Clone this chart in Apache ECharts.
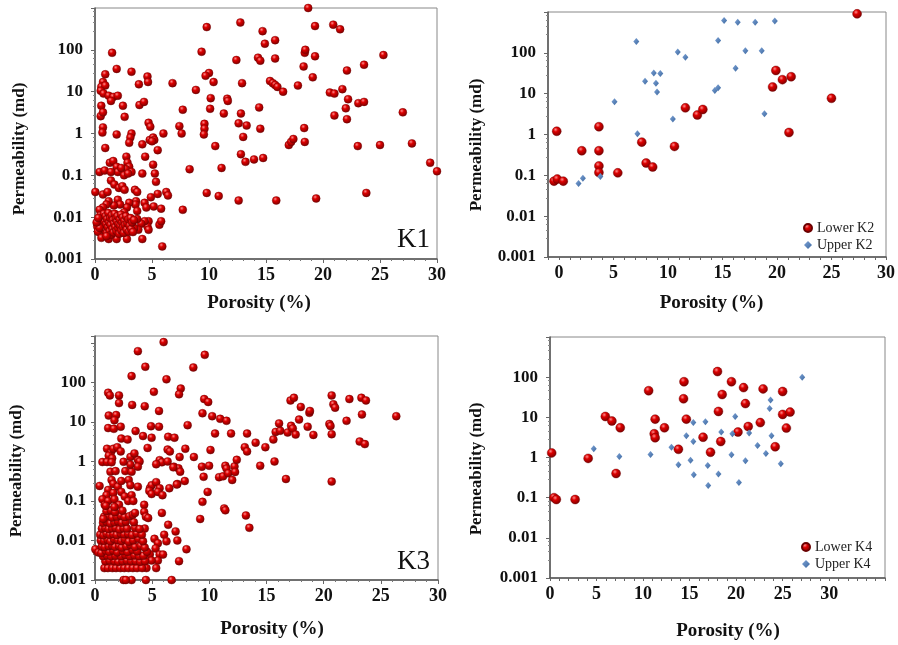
<!DOCTYPE html>
<html>
<head>
<meta charset="utf-8">
<script src="https://cdn.jsdelivr.net/npm/echarts@6.0.0/dist/echarts.min.js"></script>
<style>
html,body{margin:0;padding:0;background:#fff;}
#chart{width:898px;height:645px;}
</style>
</head>
<body>
<div id="chart"></div>
<script>
// ---------------- data ----------------
const yTickLabels = ['0.001', '0.01', '0.1', '1', '10', '100'];
const xTickLabels = ['0', '5', '10', '15', '20', '25', '30'];
const xAxisName = 'Porosity (%)';
const yAxisName = 'Permeability (md)';
const panelLabels = ['K1', 'K3'];
const legendK2 = ['Lower K2', 'Upper K2'];
const legendK4 = ['Lower K4', 'Upper K4'];

// K1 [porosity %, permeability md]
const k1Points = [
  [18.7,1000],[9.8,350],[12.75,450],[14.7,280],[19.3,370],[20.9,400],[21.5,310],[9.35,90],[14.9,140],[15.8,170],
  [12.4,57],[14.3,65],[14.5,55],[15.8,62],[18.4,85],[18.45,100],[19.3,70],[18.3,40],[19.1,22],[23.6,44],
  [25.3,75],[22.1,32],[10.0,28],[9.7,24],[10.4,17],[12.9,16],[8.85,11],[10.15,7],[11.6,6.8],[11.65,6],
  [15.35,18],[15.6,16],[15.8,14.5],[16.0,13],[16.5,10],[17.8,14],[20.6,9.5],[21.0,9],[21.7,11.5],[22.2,6.6],
  [23.1,5.3],[23.6,5.7],[22.0,4.0],[21.0,2.7],[22.1,2.2],[27.0,3.2],[6.8,16],[7.7,3.7],[10.1,3.9],[11.3,3.0],
  [12.8,3.0],[12.6,1.75],[13.3,1.55],[14.4,4.2],[14.5,1.3],[9.6,1.7],[9.6,1.3],[9.55,0.95],[7.4,1.5],[7.6,1.0],
  [13.0,0.83],[10.55,0.5],[17.0,0.53],[17.2,0.63],[17.4,0.74],[18.4,0.63],[18.35,1.35],[23.05,0.5],[25.0,0.53],[27.8,0.58],
  [29.4,0.2],[30.0,0.125],[8.3,0.14],[11.1,0.15],[12.8,0.32],[13.2,0.21],[13.95,0.24],[14.75,0.26],[9.8,0.038],[10.85,0.032],
  [12.6,0.025],[15.9,0.025],[19.4,0.028],[23.8,0.038],[7.7,0.015],[6.0,1.0],[5.9,0.002],
  [1.5,85],[1.9,35],[3.2,30],[0.9,26],[4.6,23],[4.65,17],[3.85,15],[0.7,17],[0.55,13],[0.9,14],
  [0.5,10.5],[0.75,9],[1.2,8],[1.6,7.5],[2.0,8],[1.4,6],[0.55,4.6],[2.45,4.6],[3.9,4.8],[4.3,5.7],
  [0.5,2.6],[0.7,3.2],[2.6,2.5],[4.7,1.8],[4.85,1.45],[0.7,1.4],[0.65,1.05],[1.9,0.95],[3.2,1.0],[3.1,0.8],
  [3.0,0.6],[4.15,0.55],[4.8,0.7],[5.1,0.8],[5.2,0.7],[5.0,0.65],[0.9,0.45],[5.5,0.4],[4.4,0.28],[2.75,0.28],
  [2.85,0.2],[3.0,0.16],[2.7,0.14],[3.2,0.12],[1.3,0.2],[1.6,0.22],[1.9,0.16],[2.0,0.12],[2.3,0.15],[0.4,0.12],
  [0.85,0.13],[1.4,0.12],[4.15,0.11],[5.1,0.18],[5.25,0.11],[2.55,0.1],[2.9,0.11],[5.35,0.07],[0.03,0.04],[1.4,0.075],
  [1.7,0.06],[2.1,0.05],[2.4,0.055],[2.6,0.045],[3.5,0.045],[3.7,0.04],[0.7,0.035],[1.1,0.04],[4.9,0.03],[5.5,0.036],
  [6.25,0.04],[6.4,0.033],[5.8,0.016],[5.15,0.018],[4.35,0.022],[4.5,0.017],[3.6,0.024],[3.55,0.02],[3.7,0.014],[3.0,0.022],
  [2.8,0.017],[2.55,0.013],[2.0,0.026],[2.2,0.02],[1.65,0.019],[1.2,0.024],[1.0,0.02],[0.7,0.017],[0.4,0.015],[5.65,0.0066],
  [5.8,0.008],[4.7,0.008],[4.6,0.006],[4.7,0.005],[4.35,0.008],[4.05,0.007],[3.8,0.005],[3.45,0.0055],[3.7,0.009],[1.2,0.003],
  [1.9,0.003],[2.8,0.003],[4.15,0.003],
  [0.2,0.006],[0.32,0.0085],[0.36,0.0045],[0.47,0.011],[0.52,0.007],[0.58,0.005],[0.63,0.009],[0.66,0.0038],[0.74,0.0062],[0.77,0.012],
  [0.83,0.008],[0.88,0.0048],[0.92,0.0105],[0.97,0.0068],[1.03,0.0042],[1.06,0.009],[1.12,0.0058],[1.17,0.0125],[1.22,0.0075],[1.28,0.0046],
  [1.31,0.0095],[1.37,0.0065],[1.42,0.0038],[1.46,0.011],[1.52,0.0052],[1.57,0.0085],[1.62,0.0043],[1.66,0.007],[1.72,0.012],[1.77,0.0058],
  [1.81,0.0092],[1.87,0.0047],[1.91,0.0078],[1.96,0.0105],[2.02,0.0055],[2.06,0.0068],[2.12,0.004],[2.16,0.0088],[2.21,0.0062],[2.27,0.0115],
  [2.31,0.0048],[2.37,0.0075],[2.42,0.0098],[2.46,0.0057],[2.52,0.0042],[2.57,0.0082],[2.63,0.0065],[2.71,0.0105],[2.77,0.005],[2.83,0.0072],
  [2.92,0.0088],[2.97,0.0045],[3.03,0.0062],[3.12,0.0095],[3.17,0.0052],[3.26,0.0075],[3.33,0.0044],[3.42,0.0085],[0.26,0.0045],[0.41,0.0055],
  [0.56,0.0032],[1.01,0.0035],[0.14,0.0075],[0.29,0.0095]
];

// K2
const k2Lower = [
  [27.35,900],[-0.2,1.2],[-0.45,0.072],[-0.15,0.081],[0.4,0.072],[2.1,0.40],[3.67,1.55],[3.67,0.40],[3.67,0.17],[3.67,0.117],
  [5.4,0.115],[7.6,0.65],[8.0,0.2],[8.6,0.16],[10.6,0.51],[11.6,4.5],[12.7,3.0],[13.2,4.1],[19.6,14.6],[19.9,37],
  [20.5,22],[21.3,26],[21.1,1.12],[25.0,7.7]
];
const k2Upper = [
  [15.15,620],[16.4,560],[18.0,560],[19.8,600],[7.1,190],[14.6,200],[10.9,105],[11.6,78],[17.1,112],[18.6,112],
  [16.2,42],[8.7,32],[9.3,31],[7.9,20],[8.9,18],[9.0,11],[14.3,12],[14.6,14],[5.1,6.3],[10.45,2.4],
  [18.85,3.2],[7.2,1.04],[1.8,0.063],[2.2,0.085],[3.8,0.093]
];

// K3
const k3Points = [
  [9.6,500],[8.6,240],[9.4,16.6],[9.55,38],[9.9,32],[10.25,14],[10.95,12],[11.5,10.7],[10.5,5.1],[11.9,5.1],
  [13.3,5.1],[13.1,2.3],[13.3,1.8],[14.05,3.0],[14.9,2.3],[15.6,3.6],[15.8,5.6],[16.2,6.0],[16.1,9.2],[16.85,5.4],
  [17.15,8.0],[17.3,6.8],[17.1,35],[17.4,41],[17.55,4.8],[17.85,11.5],[18.0,24],[18.75,17],[18.8,19],[18.6,7.6],
  [19.1,4.7],[16.7,0.36],[15.7,1.0],[14.45,0.78],[20.7,47],[20.85,28],[21.0,23],[20.5,8.9],[20.6,7.9],[20.7,4.9],
  [20.7,0.31],[22.0,10.7],[22.25,38],[23.3,41],[23.7,35],[23.35,15.5],[23.15,3.2],[23.6,2.75],[26.35,14],[9.35,0.74],
  [9.5,0.41],[9.98,0.78],[10.1,1.95],[9.85,0.17],[9.4,0.095],[9.2,0.035],[11.4,0.78],[11.5,0.66],[10.85,0.40],[11.2,0.42],
  [11.65,0.5],[12.0,0.34],[12.2,0.75],[12.25,0.54],[12.4,1.1],[11.3,0.065],[11.4,0.058],[13.2,0.043],[13.5,0.021],[8.65,1.3],
  [6.0,1050],[3.75,620],[4.4,250],[3.2,145],[6.25,120],[7.5,70],[7.35,50],[5.15,58],[1.15,55],[1.3,47],
  [2.1,47],[2.1,30],[3.25,27],[4.35,25],[5.6,19],[1.2,14.5],[1.85,15],[1.7,11],[1.15,7],[1.65,6.7],
  [2.25,7.6],[3.55,5.9],[4.9,7.8],[5.6,7.6],[4.2,4.4],[4.95,4.0],[2.3,3.8],[2.85,3.6],[6.4,4.2],[6.95,4.0],
  [8.1,8.3],[1.05,2.1],[1.4,1.7],[1.6,2.1],[1.95,2.3],[2.25,1.8],[1.2,1.4],[1.5,1.2],[3.75,1.1],[3.9,1.0],
  [3.1,1.3],[3.45,1.6],[4.6,2.2],[6.35,2.0],[6.55,1.8],[7.4,1.3],[7.9,2.1],[5.65,1.08],[5.85,0.95],[5.35,0.85],
  [6.35,1.0],[6.9,0.74],[7.3,0.67],[0.65,0.97],[1.05,0.97],[1.45,0.95],[1.35,0.55],[1.8,0.57],[2.65,0.57],[3.2,0.55],
  [3.75,0.74],[3.1,0.83],[2.5,0.98],[0.4,0.24],[1.45,0.34],[1.6,0.27],[2.0,0.23],[2.3,0.32],[2.95,0.34],[3.1,0.25],
  [3.75,0.23],[4.8,0.21],[4.95,0.25],[4.75,0.18],[4.95,0.15],[5.35,0.3],[5.65,0.21],[5.5,0.17],[5.9,0.14],[6.5,0.21],
  [7.2,0.27],[7.85,0.32],[1.15,0.19],[1.0,0.14],[1.6,0.16],[2.3,0.17],[2.6,0.13],[3.2,0.14],[0.65,0.11],[0.85,0.08],
  [1.15,0.1],[1.7,0.11],[2.1,0.08],[2.9,0.1],[3.35,0.1],[4.3,0.08],[5.85,0.05],[4.3,0.053],[4.45,0.04],[4.65,0.037],
  [4.35,0.02],[6.4,0.025],[7.05,0.017],[6.05,0.014],[7.2,0.01],[6.25,0.0095],[8.0,0.006],[7.35,0.003],[6.7,0.001],[5.2,0.011],
  [5.5,0.0085],[5.3,0.0063],[5.65,0.0044],[5.5,0.0031],[5.95,0.0044],[5.35,0.002],[4.8,0.0045],[4.95,0.0031],[4.5,0.002],[4.45,0.001],
  [3.2,0.001],[2.5,0.001],[2.7,0.001],[0.15,0.0054],[0.03,0.006],[7.15,0.26],[7.45,0.55],[6.85,0.71],
  [0.82,0.002],[1.13,0.002],[1.52,0.002],[1.84,0.002],[2.22,0.002],[2.56,0.002],[2.93,0.002],[3.31,0.002],[3.68,0.002],[4.12,0.002],
  [0.9,0.003],[1.28,0.0031],[1.71,0.003],[2.04,0.0029],[2.41,0.003],[2.79,0.0031],[3.16,0.003],[3.57,0.003],[3.96,0.0029],[4.38,0.003],
  [0.7,0.004],[1.06,0.0042],[1.41,0.004],[1.79,0.0041],[2.29,0.004],[2.66,0.0043],[3.04,0.004],[3.46,0.0042],[3.86,0.004],[4.24,0.0041],
  [0.3,0.005],[0.55,0.0048],[0.95,0.0055],[1.25,0.0052],[1.6,0.0056],[1.95,0.005],[2.45,0.0054],[2.85,0.0051],[3.3,0.0058],[3.7,0.0053],
  [4.55,0.0052],[0.6,0.007],[0.85,0.0068],[1.2,0.0072],[1.5,0.0075],[1.75,0.0069],[2.1,0.0073],[2.35,0.0066],[2.75,0.0071],[3.1,0.0078],
  [3.5,0.0068],[4.0,0.0074],[4.35,0.0066],[0.5,0.01],[0.8,0.0098],[1.1,0.0105],[1.35,0.0095],[1.65,0.011],[2.0,0.0102],[2.3,0.0097],
  [2.6,0.0108],[2.95,0.0093],[3.35,0.0101],[3.8,0.011],[4.2,0.0096],[0.45,0.014],[0.75,0.0135],[1.0,0.015],[1.3,0.014],[1.6,0.0145],
  [1.9,0.0138],[2.25,0.015],[2.55,0.0142],[2.9,0.0148],[3.25,0.0137],[3.65,0.015],[4.1,0.014],[0.6,0.02],[0.9,0.021],[1.2,0.0195],
  [1.5,0.0205],[1.8,0.021],[2.15,0.019],[2.5,0.0205],[2.8,0.02],[3.5,0.021],[3.9,0.0195],[0.7,0.028],[1.0,0.03],[1.35,0.027],
  [1.7,0.029],[2.0,0.031],[2.35,0.028],[2.7,0.03],[3.4,0.029],[0.8,0.04],[1.15,0.042],[1.5,0.038],[1.9,0.04],[2.25,0.043],
  [2.6,0.039],[3.0,0.041],[3.3,0.045],[1.0,0.055],[1.4,0.058],[1.75,0.052],[2.4,0.057],[0.95,0.075],[1.7,0.07],[3.5,0.05],
  [0.72,0.035]
];

// K4
const k4Lower = [
  [0.18,1.3],[0.43,0.1],[0.68,0.09],[2.7,0.09],[4.1,0.95],[5.95,10.5],[6.65,8.1],[7.55,5.5],[7.1,0.4],[10.6,46],
  [14.4,77],[14.35,29],[14.65,9.0],[11.3,9.0],[11.2,3.9],[11.3,3.1],[12.3,5.5],[13.8,1.6],[16.45,3.2],[17.25,1.35],
  [18.0,138],[18.1,14],[18.5,37],[18.35,2.5],[19.5,77],[20.2,4.3],[20.8,55],[21.0,22],[21.3,5.9],[22.6,7.4],
  [22.9,51],[24.2,1.85],[25.0,44],[25.0,11.8],[25.4,5.4],[25.8,13.5]
];
const k4Upper = [
  [4.7,1.65],[7.45,1.06],[10.8,1.19],[13.05,1.8],[13.8,0.66],[14.65,3.5],[15.1,0.85],[15.4,2.5],[15.4,7.4],[15.45,0.37],
  [16.7,7.8],[16.95,0.63],[17.0,0.2],[18.1,0.39],[18.4,4.3],[19.5,1.17],[19.6,3.9],[19.9,10.5],[20.3,0.24],[21.0,0.83],
  [21.4,4.1],[22.3,2.0],[23.2,1.26],[23.7,27],[23.6,16.5],[23.8,3.5],[24.8,0.7],[27.1,100]
];

// ---------------- styling ----------------
const SERIF = "'Liberation Serif', 'Times New Roman', serif";
const redBall = {
  type: 'radial', x: 0.38, y: 0.32, r: 0.7,
  colorStops: [
    {offset: 0, color: '#ff8c8c'},
    {offset: 0.35, color: '#dc0000'},
    {offset: 1, color: '#7a0000'}
  ]
};
const blueDiamond = {
  type: 'linear', x: 0, y: 0, x2: 1, y2: 1,
  colorStops: [
    {offset: 0, color: '#7ea3d6'},
    {offset: 1, color: '#3b679f'}
  ]
};

const grids = [
  {left: 95, top: 8, width: 342, height: 251},
  {left: 548, top: 12, width: 339, height: 245},
  {left: 95, top: 336, width: 343, height: 244},
  {left: 550, top: 337, width: 335, height: 241}
];
// centres of the rotated y-axis titles
const yNamePos = [[20, 149], [477, 145], [17, 471], [477, 469]];

function xLabelFmt(v) {
  const r = Math.round(v);
  if (Math.abs(v - r) > 1e-6 || r % 5 !== 0 || r < 0 || r > 30) return '';
  return xTickLabels[r / 5];
}
function yLabelFmt(v) {
  const l = Math.log10(v);
  const e = Math.round(l);
  if (Math.abs(l - e) > 1e-6) return '';
  const i = e + 3;
  return (i >= 0 && i < yTickLabels.length) ? yTickLabels[i] : '';
}

function makeX(gi, min, max, interval, nameGap, namePad, minor) {
  return {
    gridIndex: gi, type: 'value', min: min, max: max, interval: interval,
    name: xAxisName, nameLocation: 'middle', nameGap: nameGap,
    nameTextStyle: {fontFamily: SERIF, fontWeight: 'bold', fontSize: 19, color: '#111', padding: namePad},
    axisLine: {show: true, onZero: false, lineStyle: {color: '#555', width: 1.5}},
    axisTick: {show: true, length: minor ? 4 : 3, lineStyle: {color: '#666'}},
    minorTick: {show: !!minor, splitNumber: 5, length: 2, lineStyle: {color: '#777'}},
    axisLabel: {formatter: xLabelFmt, fontFamily: SERIF, fontWeight: 'bold', fontSize: 18, color: '#111', margin: 7},
    splitLine: {show: false}
  };
}
function makeY(gi, max, labelMargin) {
  return {
    gridIndex: gi, type: 'log', logBase: 10, min: 0.001, max: max,
    axisLine: {show: true, onZero: false, lineStyle: {color: '#555', width: 1.5}},
    axisTick: {show: true, length: 4, lineStyle: {color: '#666'}},
    minorTick: {show: true, splitNumber: 5, length: 2, lineStyle: {color: '#888'}},
    axisLabel: {formatter: yLabelFmt, fontFamily: SERIF, fontWeight: 'bold', fontSize: 17, color: '#111', margin: labelMargin},
    splitLine: {show: false}
  };
}

function redSeries(name, data, idx, size) {
  return {
    name: name, type: 'scatter', xAxisIndex: idx, yAxisIndex: idx, data: data,
    symbol: 'circle', symbolSize: size,
    itemStyle: {color: redBall, borderColor: '#6a0000', borderWidth: 0.4, opacity: 1}
  };
}
function blueSeries(name, data, idx) {
  return {
    name: name, type: 'scatter', xAxisIndex: idx, yAxisIndex: idx, data: data,
    symbol: 'diamond', symbolSize: [6, 7],
    itemStyle: {color: blueDiamond, opacity: 1}
  };
}

const legendText = {fontFamily: SERIF, fontSize: 14, color: '#222'};

const yNameGraphics = yNamePos.map(p => ({
  type: 'text', x: p[0], y: p[1], rotation: Math.PI / 2,
  style: {text: yAxisName, font: "bold 17px 'Liberation Serif', serif", fill: '#111', align: 'center', verticalAlign: 'middle'}
}));

const option = {
  animation: false,
  backgroundColor: '#fff',
  grid: grids.map(g => Object.assign({show: true, borderColor: '#888', borderWidth: 1, backgroundColor: 'transparent', containLabel: false}, g)),
  xAxis: [
    makeX(0, 0, 30, 5, 35, [0, 14, 0, 0], true),
    makeX(1, -1, 30, 1, 37, [0, 11, 0, 0], false),
    makeX(2, 0, 30, 5, 40, [0, 0, 0, 11], true),
    makeX(3, 0, 36, 1, 44, [0, 0, 0, 21], false)
  ],
  yAxis: [
    makeY(0, 1000, 12),
    makeY(1, 1000, 12),
    makeY(2, 1500, 9),
    makeY(3, 1000, 12)
  ],
  legend: [
    {data: legendK2, orient: 'vertical', left: 798, top: 216, itemWidth: 8, itemHeight: 8, itemGap: 3, textStyle: legendText, selectedMode: false},
    {data: legendK4, orient: 'vertical', left: 796, top: 535, itemWidth: 8, itemHeight: 8, itemGap: 3, textStyle: legendText, selectedMode: false}
  ],
  graphic: [
    {type: 'text', left: 397, top: 226, style: {text: panelLabels[0], font: "27px 'Liberation Serif', serif", fill: '#111'}},
    {type: 'text', left: 397, top: 548, style: {text: panelLabels[1], font: "27px 'Liberation Serif', serif", fill: '#111'}}
  ].concat(yNameGraphics),
  series: [
    redSeries('K1', k1Points, 0, 8),
    redSeries(legendK2[0], k2Lower, 1, 9),
    blueSeries(legendK2[1], k2Upper, 1),
    redSeries('K3', k3Points, 2, 8),
    redSeries(legendK4[0], k4Lower, 3, 9),
    blueSeries(legendK4[1], k4Upper, 3)
  ]
};

const chart = echarts.init(document.getElementById('chart'), null, {renderer: 'canvas'});
chart.setOption(option);
</script>
</body>
</html>
